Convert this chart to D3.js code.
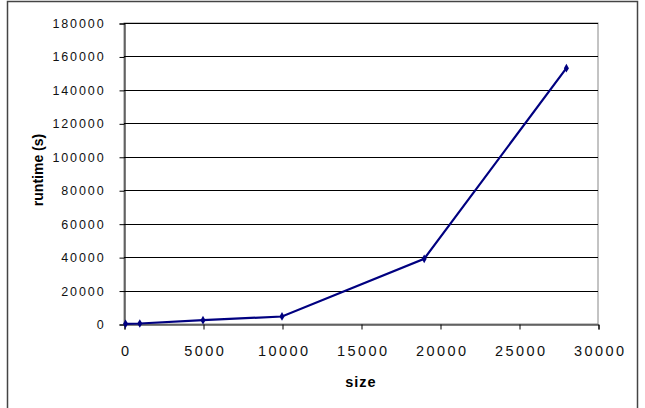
<!DOCTYPE html>
<html><head><meta charset="utf-8">
<script src="https://cdn.jsdelivr.net/npm/d3@7"></script>
<style>body{margin:0;background:#fff;} text{font-family:"Liberation Sans",Arial,sans-serif;}</style>
</head><body><svg id="c" width="645" height="408"></svg>
<script>
const sizes = [100, 1000, 5000, 10000, 19000, 28000];
const runtimes = [100, 300, 2300, 4500, 39000, 153000];
const xTicks = [0, 5000, 10000, 15000, 20000, 25000, 30000];
const yTicks = [0, 20000, 40000, 60000, 80000, 100000, 120000, 140000, 160000, 180000];

const svg = d3.select("#c");
svg.append("rect").attr("x",7.5).attr("y",1.5).attr("width",630).attr("height",420)
  .attr("fill","#fff").attr("stroke","#444").attr("stroke-width",1.5);

const x = d3.scaleLinear().domain([0,30000]).range([124,598]);
const y = d3.scaleLinear().domain([0,180000]).range([324,23]);

svg.append("rect").attr("x",124).attr("y",23).attr("width",474).attr("height",301)
  .attr("fill","#fff").attr("stroke","#888").attr("stroke-width",1);

svg.append("g").selectAll("line").data(yTicks.slice(1)).join("line")
  .attr("x1",124).attr("x2",598).attr("y1",d=>Math.round(y(d))+0.5).attr("y2",d=>Math.round(y(d))+0.5)
  .attr("stroke","#000").attr("stroke-width",1);

const fmt = d3.format("d");
const ya = svg.append("g").attr("transform","translate(124.5,0.5)")
  .call(d3.axisLeft(y).tickValues(yTicks).tickFormat(fmt).tickSize(5).tickPadding(11));
const xa = svg.append("g").attr("transform","translate(0.5,324.5)")
  .call(d3.axisBottom(x).tickValues(xTicks).tickFormat(fmt).tickSize(5).tickPadding(16));
[ya,xa].forEach(a=>{
  a.select(".domain").attr("stroke","#000");
  a.selectAll(".tick line").attr("stroke","#000");
  a.selectAll("text").attr("fill","#111").attr("font-family","Liberation Sans, Arial, sans-serif");
});
ya.selectAll("text").attr("font-size",12.5).attr("letter-spacing","1.9px").attr("dx","-3px");
xa.selectAll("text").attr("font-size",14.5).attr("letter-spacing","2.4px").attr("dx","1.2px");

const pts = sizes.map((s,i)=>[s,runtimes[i]]);
svg.append("path").datum(pts)
  .attr("d", d3.line().x(d=>x(d[0])).y(d=>y(d[1])))
  .attr("fill","none").attr("stroke","#000080").attr("stroke-width",2.2);
svg.append("g").selectAll("path").data(pts).join("path")
  .attr("d", d3.symbol().type(d3.symbolDiamond).size(22))
  .attr("transform", d=>`translate(${x(d[0])},${y(d[1])})`)
  .attr("fill","#000080");

svg.append("text").attr("x",361).attr("y",387).attr("text-anchor","middle")
  .attr("font-size",14.5).attr("font-weight","bold").attr("letter-spacing","1px").text("size");
svg.append("text").attr("transform","translate(43,170) rotate(-90)").attr("text-anchor","middle")
  .attr("font-size",14).attr("font-weight","bold").text("runtime (s)");
</script></body></html>
